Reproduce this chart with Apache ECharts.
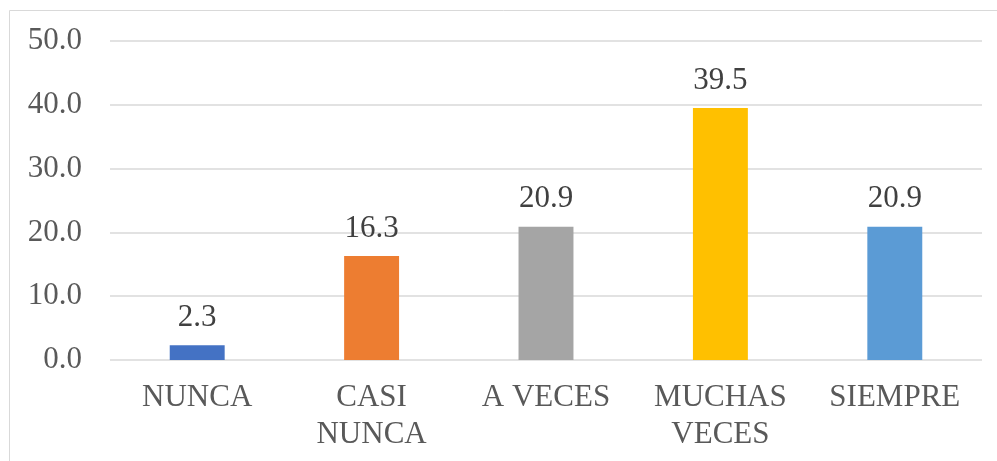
<!DOCTYPE html>
<html>
<head>
<meta charset="utf-8">
<script src="https://cdn.jsdelivr.net/npm/echarts@6/dist/echarts.min.js"></script>
<style>
  html, body { margin: 0; padding: 0; background: #fff; }
  #main { width: 997px; height: 461px; }
</style>
</head>
<body>
<div id="main"></div>
<script>
var categories = ['NUNCA', 'CASI\nNUNCA', 'A VECES', 'MUCHAS\nVECES', 'SIEMPRE'];
var values = [2.3, 16.3, 20.9, 39.5, 20.9];
var barColors = ['#4472C4', '#ED7D31', '#A5A5A5', '#FFC000', '#5B9BD5'];

var chart = echarts.init(document.getElementById('main'));
var font = '"Liberation Serif", "Times New Roman", serif';

chart.setOption({
  animation: false,
  graphic: [{
    type: 'rect',
    shape: { x: 9.5, y: 10.5, width: 1100, height: 600 },
    style: { fill: 'none', stroke: '#D9D9D9', lineWidth: 1 }
  }],
  grid: { left: 110, right: 15, top: 41, bottom: 101 },
  xAxis: {
    type: 'category',
    data: categories,
    axisLine: { show: false },
    axisTick: { show: false },
    axisLabel: {
      color: '#595959', fontFamily: font, fontSize: 31,
      lineHeight: 37, margin: 19, interval: 0
    }
  },
  yAxis: {
    type: 'value',
    min: 0, max: 50, interval: 10,
    axisLine: { show: false },
    axisTick: { show: false },
    splitLine: { lineStyle: { color: '#D9D9D9', width: 1.5 } },
    axisLabel: {
      color: '#595959', fontFamily: font, fontSize: 31, margin: 28,
      formatter: function (v) { return v.toFixed(1); }
    }
  },
  series: [{
    type: 'bar',
    barWidth: '31.5%',
    data: values.map(function (v, i) {
      return { value: v, itemStyle: { color: barColors[i] } };
    }),
    label: {
      show: true, position: 'top', distance: 12,
      color: '#404040', fontFamily: font, fontSize: 31,
      formatter: function (p) { return p.value.toFixed(1); }
    }
  }]
});
</script>
</body>
</html>
